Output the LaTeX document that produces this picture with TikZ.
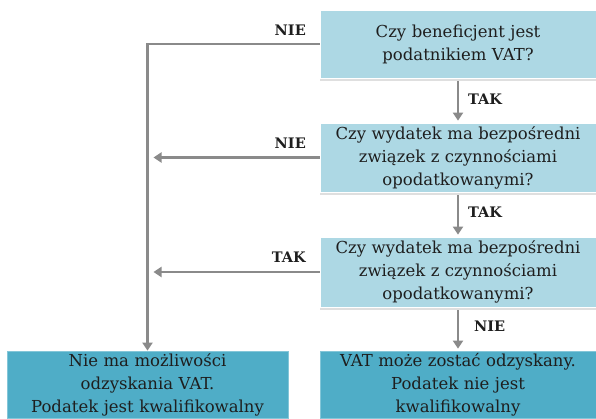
\documentclass[tikz,border=0pt]{standalone}
\usepackage{fontspec}
\setmainfont{DejaVu Serif}
\usetikzlibrary{arrows.meta,shadows}
\definecolor{qfill}{HTML}{ADD8E4}
\definecolor{rfill}{HTML}{4FADC7}
\definecolor{linegray}{HTML}{8A8A8A}
\definecolor{ink}{HTML}{1E1E1E}
\tikzset{
  question/.style={rectangle, fill=qfill, draw=white, line width=0.8pt,
    minimum width=276pt, text width=270pt, align=center, inner sep=0pt,
    font=\fontsize{16.5}{23}\selectfont, text=ink,
    drop shadow={shadow xshift=-0.5pt, shadow yshift=-2.5pt, opacity=0.25, fill=black!50}},
  result/.style={rectangle, fill=rfill, draw=rfill!70!white, line width=0.8pt,
    inner sep=0pt, align=center, text=ink,
    font=\fontsize{16.5}{23}\selectfont},
  flow/.style={draw=linegray, line width=2.6pt,
    -{Triangle[length=8pt,width=10pt]}},
  answer/.style={font=\bfseries\fontsize{14.5}{16}\selectfont, text=ink, inner sep=0pt}
}
\begin{document}
\begin{tikzpicture}[x=1pt,y=-1pt]
\useasboundingbox (0,0) rectangle (596,418);

% decision boxes
\node[question, minimum height=68pt] (q1) at (458,44)
  {Czy beneficjent jest\\podatnikiem VAT?};
\node[question, minimum height=69pt] (q2) at (458,157.5)
  {Czy wydatek ma bezpośredni\\związek z czynnościami\\opodatkowanymi?};
\node[question, minimum height=70pt] (q3) at (458,272)
  {Czy wydatek ma bezpośredni\\związek z czynnościami\\opodatkowanymi?};

% outcome boxes
\node[result, minimum width=281pt, minimum height=67pt, text width=278pt] (r1) at (147.5,384.5)
  {Nie ma możliwości\\odzyskania VAT.\\Podatek jest kwalifikowalny};
\node[result, minimum width=276pt, minimum height=67pt, text width=274pt] (r2) at (458,384.5)
  {VAT może zostać odzyskany.\\Podatek nie jest\\kwalifikowalny};

% connectors
\draw[flow] (q1.west) -| (r1.north);
\coordinate (m2) at (q2.west -| r1.north);
\coordinate (m3) at (q3.west -| r1.north);
\draw[flow, shorten >=6pt] (q2.west) -- (m2);
\draw[flow, shorten >=6pt] (q3.west) -- (m3);
\draw[flow, shorten <=3pt, shorten >=2pt] (q1.south) -- (q2.north);
\draw[flow, shorten <=3pt, shorten >=2pt] (q2.south) -- (q3.north);
\draw[flow, shorten <=3pt, shorten >=2pt] (q3.south) -- (r2.north);

% branch labels
\node[answer, anchor=east] (a1) at (306,30) {NIE};
\node[answer, anchor=east] (a2) at (306,143) {NIE};
\node[answer, anchor=east] (a3) at (306,257) {TAK};
\node[answer, anchor=west] (a4) at (468,99) {TAK};
\node[answer, anchor=west] (a5) at (468,212) {TAK};
\node[answer, anchor=west] (a6) at (474,326) {NIE};
\end{tikzpicture}
\end{document}
